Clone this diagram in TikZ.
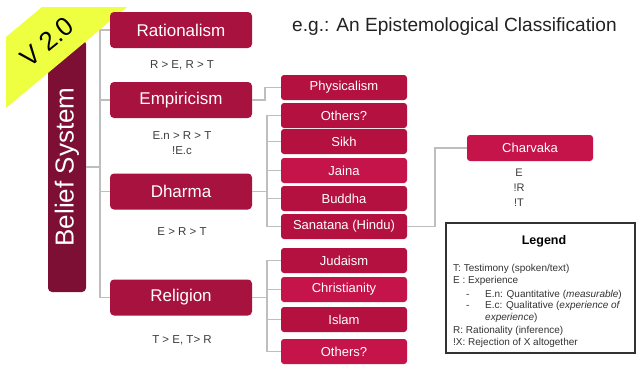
\documentclass[tikz,border=0pt]{standalone}
\usepackage{fontspec}
\setmainfont{Liberation Sans}
\definecolor{mainc}{RGB}{168,18,62}
\definecolor{subA}{RGB}{180,17,65}
\definecolor{subB}{RGB}{196,20,74}
\definecolor{beliefc}{RGB}{125,14,52}
\definecolor{ribbon}{RGB}{238,255,65}
\definecolor{linec}{RGB}{190,190,190}
\definecolor{labc}{RGB}{60,60,60}
\definecolor{legc}{RGB}{50,50,50}
\begin{document}
\begin{tikzpicture}[x=1pt,y=-1pt,
  mainbox/.style={rectangle, rounded corners=4pt, fill=mainc, text=white, minimum width=142pt, minimum height=36pt, inner sep=0pt, font=\fontsize{17}{20}\selectfont},
  subbox/.style={rectangle, rounded corners=3pt, fill=subA, text=white, minimum width=126pt, minimum height=25pt, inner sep=0pt, font=\fontsize{13}{15}\selectfont},
  conn/.style={draw=linec, line width=1.6pt},
  lbl/.style={text=labc, inner sep=0pt, font=\fontsize{11.5}{13}\selectfont},
  legtxt/.style={text=legc, inner sep=0pt, anchor=base west, font=\fontsize{10}{12}\selectfont}]
\useasboundingbox (0,0) rectangle (637,364);

% Belief system box
\node[rectangle, rounded corners=4pt, fill=beliefc, minimum width=38pt, minimum height=252pt, inner sep=0pt] (belief) at (67,166) {};
\node[text=white, rotate=90, inner sep=0pt, font=\fontsize{26}{30}\selectfont] (belieft) at (67,167) {Belief System};

% ribbon
\fill[ribbon] (6,37) -- (42,7) -- (127,7) -- (6,108) -- cycle;
\node[rotate=39, inner sep=0pt, font=\fontsize{26}{30}\selectfont] (ver) at (47,42) {V 2.0};

% title
\node[anchor=west, inner sep=0pt, text={rgb,255:red,34;green,34;blue,34}, font=\fontsize{19.1}{22}\selectfont] (title) at (292,27) {e.g.: An Epistemological Classification};

% main boxes
\node[mainbox] (rat) at (181,30) {Rationalism};
\node[mainbox] (emp) at (181,100) {Empiricism};
\node[mainbox] (dha) at (181,191.5) {Dharma};
\node[mainbox] (rel) at (181,297.5) {Religion};

% labels
\node[lbl] (lrat) at (182,65) {R > E, R > T};
\node[lbl] (lemp1) at (182,136) {E.n > R > T};
\node[lbl] (lemp2) at (182,151) {!E.c};
\node[lbl] (ldha) at (182,232) {E > R > T};
\node[lbl] (lrel) at (182,340) {T > E, T> R};

% sub boxes
\node[subbox] (phys) at (344,87.5) {Physicalism};
\node[subbox] (oth1) at (344,115.5) {Others?};
\node[subbox] (sikh) at (344,141.5) {Sikh};
\node[subbox, fill=subB] (jaina) at (344,170.5) {Jaina};
\node[subbox] (bud) at (344,198.5) {Buddha};
\node[subbox] (san) at (344,226.5) {Sanatana (Hindu)};
\node[subbox] (jud) at (344,260.5) {Judaism};
\node[subbox, fill=subB] (chr) at (344,289.5) {Christianity};
\node[subbox] (isl) at (344,319.5) {Islam};
\node[subbox, fill=subB] (oth2) at (344,351.5) {Others?};

\node[subbox, fill=subB, minimum height=26pt] (char) at (530,148) {Charvaka};
\node[lbl, font=\fontsize{11}{13}\selectfont] (c1) at (519,173) {E};
\node[lbl, font=\fontsize{11}{13}\selectfont] (c2) at (519,188) {!R};
\node[lbl, font=\fontsize{11}{13}\selectfont] (c3) at (519,203) {!T};

% connectors
\coordinate (sptop) at (100,30);
\coordinate (spbot) at (100,297.5);
\draw[conn] (sptop) -- (spbot);
\draw[conn] (belief.east |- 0,167) -- (100,167);
\draw[conn] (sptop) -- (rat.west);
\draw[conn] (100,100) -- (emp.west);
\draw[conn] (100,191.5) -- (dha.west);
\draw[conn] (spbot) -- (rel.west);

\draw[conn] (emp.east) -- ++(13,0) |- (phys.west);
\foreach \c in {oth1,sikh,jaina,bud,san}
  \draw[conn] (dha.east) -- ++(15,0) |- (\c.west);
\foreach \c in {jud,chr,isl,oth2}
  \draw[conn] (rel.east) -- ++(15,0) |- (\c.west);
\draw[conn] (san.east) -- ++(28,0) |- (char.west);

% legend
\node[draw=legc, line width=2pt, rectangle, minimum width=189pt, minimum height=130pt, inner sep=0pt] (legend) at (540,288) {};
\node[text=black, inner sep=0pt, font=\bfseries\fontsize{12.5}{15}\selectfont] (legt) at (544,241) {Legend};
\node[legtxt] (l1) at (453,271.5) {T: Testimony (spoken/text)};
\node[legtxt] (l2) at (453,283.5) {E : Experience};
\node[legtxt] (l3d) at (466,297.5) {-};
\node[legtxt] (l3) at (485,297.5) {E.n: Quantitative (\textit{measurable})};
\node[legtxt] (l4d) at (466,308.5) {-};
\node[legtxt] (l4) at (485,308.5) {E.c: Qualitative (\textit{experience of}};
\node[legtxt] (l5) at (485,320.5) {\textit{experience})};
\node[legtxt] (l6) at (453,333.5) {R: Rationality (inference)};
\node[legtxt] (l7) at (453,345.5) {!X: Rejection of X altogether};
\end{tikzpicture}
\end{document}
